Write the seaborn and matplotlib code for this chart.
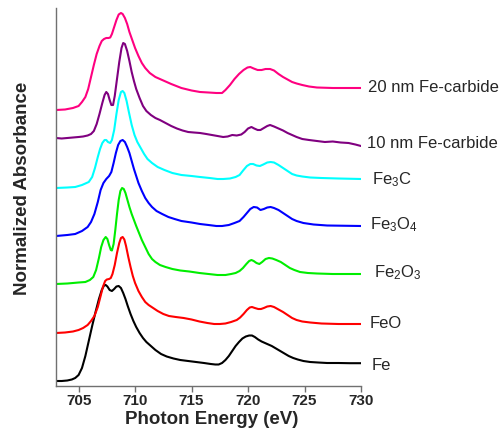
import matplotlib
matplotlib.use("Agg")
import matplotlib.pyplot as plt
import seaborn as sns
import pandas as pd

# Fe L-edge XAS spectra, stacked with vertical offsets (normalized absorbance + offset)
samples = ["Fe", "FeO", "Fe2O3", "Fe3O4", "Fe3C", "10 nm Fe-carbide", "20 nm Fe-carbide"]
sample_labels = ["Fe", "FeO", r"Fe$_2$O$_3$", r"Fe$_3$O$_4$", r"Fe$_3$C",
                 "10 nm Fe-carbide", "20 nm Fe-carbide"]
colors = ["#000000", "#ff0000", "#00ee00", "#0000ff", "#00ffff", "#800080", "#ff0080"]

fe_energy = [703.0, 703.5, 704.0, 704.4, 704.7, 705.0, 705.3, 705.6, 705.9, 706.2, 706.5,
             706.8, 707.05, 707.25, 707.4, 707.55, 707.75, 707.95, 708.15, 708.35, 708.55,
             708.75, 708.95, 709.15, 709.35, 709.6, 709.85, 710.1, 710.4, 710.7, 711.0,
             711.4, 711.8, 712.3, 712.8, 713.4, 714.0, 714.7, 715.4, 716.1, 716.7, 717.1,
             717.4, 717.7, 718.0, 718.3, 718.6, 718.9, 719.2, 719.5, 719.8, 720.1, 720.35,
             720.6, 720.9, 721.2, 721.5, 721.8, 722.1, 722.4, 722.7, 723.0, 723.3, 723.6,
             724.0, 724.4, 724.9, 725.5, 726.2, 727.0, 728.0, 729.0, 730.0]
fe_abs = [0.05, 0.05, 0.055, 0.065, 0.08, 0.11, 0.18, 0.30, 0.45, 0.60, 0.74,
          0.87, 0.96, 1.005, 1.01, 0.995, 0.96, 0.95, 0.97, 0.995, 1.00,
          0.98, 0.93, 0.87, 0.80, 0.72, 0.65, 0.59, 0.53, 0.48, 0.44,
          0.40, 0.36, 0.32, 0.295, 0.275, 0.26, 0.25, 0.24, 0.23, 0.22, 0.215,
          0.215, 0.23, 0.26, 0.30, 0.35, 0.40, 0.44, 0.475, 0.495, 0.505, 0.505,
          0.49, 0.465, 0.445, 0.43, 0.415, 0.40, 0.38, 0.36, 0.34, 0.32, 0.30,
          0.28, 0.265, 0.25, 0.24, 0.235, 0.23, 0.23, 0.228, 0.228]

feo_energy = [703.0, 703.8, 704.5, 705.0, 705.4, 705.8, 706.1, 706.4, 706.7, 706.95, 707.15,
              707.35, 707.5, 707.7, 707.85, 708.0, 708.2, 708.4, 708.6, 708.75, 708.9,
              709.05, 709.2, 709.4, 709.6, 709.8, 710.0, 710.3, 710.6, 710.9, 711.2,
              711.6, 712.0, 712.5, 713.0, 713.6, 714.3, 715.0, 715.7, 716.4, 717.0,
              717.5, 718.0, 718.5, 719.0, 719.3, 719.6, 719.9, 720.15, 720.35, 720.6,
              720.9, 721.15, 721.4, 721.7, 722.0, 722.3, 722.7, 723.1, 723.5, 723.9,
              724.3, 724.8, 725.5, 726.5, 728.0, 730.0]
feo_abs = [0.53, 0.535, 0.545, 0.56, 0.58, 0.61, 0.65, 0.70, 0.79, 0.90, 0.99,
           1.05, 1.065, 1.07, 1.08, 1.12, 1.21, 1.33, 1.43, 1.48, 1.49,
           1.465, 1.40, 1.29, 1.19, 1.10, 1.03, 0.95, 0.89, 0.84, 0.81,
           0.78, 0.75, 0.72, 0.70, 0.69, 0.68, 0.665, 0.645, 0.63, 0.62,
           0.62, 0.625, 0.64, 0.66, 0.685, 0.72, 0.76, 0.785, 0.79, 0.78,
           0.77, 0.77, 0.78, 0.795, 0.80, 0.79, 0.765, 0.74, 0.71, 0.68,
           0.66, 0.645, 0.635, 0.625, 0.62, 0.62]

fe2o3_energy = [703.0, 704.0, 705.0, 705.6, 706.0, 706.3, 706.55, 706.8, 707.0, 707.2, 707.4,
                707.55, 707.7, 707.85, 707.95, 708.1, 708.25, 708.4, 708.55, 708.7, 708.85,
                709.0, 709.15, 709.3, 709.5, 709.7, 709.9, 710.1, 710.35, 710.6, 710.9,
                711.2, 711.5, 711.8, 712.2, 712.7, 713.3, 714.0, 714.8, 715.7, 716.5,
                717.3, 718.0, 718.5, 718.9, 719.25, 719.55, 719.85, 720.1, 720.3, 720.5,
                720.75, 721.0, 721.25, 721.55, 721.85, 722.15, 722.5, 722.9, 723.3, 723.7,
                724.1, 724.6, 725.3, 726.1, 727.5, 730.0]
fe2o3_abs = [1.02, 1.025, 1.035, 1.04, 1.06, 1.09, 1.16, 1.28, 1.39, 1.46, 1.49,
             1.47, 1.41, 1.36, 1.355, 1.42, 1.56, 1.72, 1.86, 1.95, 1.98,
             1.97, 1.93, 1.87, 1.79, 1.72, 1.66, 1.60, 1.53, 1.46, 1.39,
             1.32, 1.27, 1.24, 1.21, 1.19, 1.17, 1.155, 1.145, 1.13, 1.12,
             1.11, 1.11, 1.12, 1.13, 1.15, 1.18, 1.22, 1.25, 1.26, 1.25,
             1.23, 1.22, 1.24, 1.27, 1.28, 1.275, 1.26, 1.24, 1.21, 1.18,
             1.16, 1.14, 1.13, 1.125, 1.12, 1.12]

fe3o4_energy = [703.0, 704.0, 704.7, 705.3, 705.8, 706.1, 706.4, 706.7, 706.95, 707.2, 707.45,
                707.7, 707.9, 708.1, 708.3, 708.5, 708.7, 708.9, 709.1, 709.3, 709.5,
                709.7, 709.9, 710.1, 710.3, 710.6, 710.9, 711.2, 711.5, 711.9, 712.4,
                712.95, 713.5, 714.1, 715.0, 715.75, 716.5, 717.2, 717.7, 718.3, 718.8,
                719.25, 719.6, 719.9, 720.2, 720.5, 720.8, 721.1, 721.4, 721.7, 722.0,
                722.3, 722.7, 723.1, 723.5, 723.9, 724.3, 724.9, 725.8, 727.0, 730.0]
fe3o4_abs = [1.50, 1.51, 1.52, 1.55, 1.59, 1.64, 1.72, 1.84, 1.96, 2.03, 2.07,
             2.10, 2.14, 2.23, 2.33, 2.41, 2.45, 2.46, 2.44, 2.39, 2.33,
             2.25, 2.17, 2.10, 2.03, 1.95, 1.88, 1.83, 1.79, 1.75, 1.72,
             1.69, 1.67, 1.65, 1.635, 1.62, 1.61, 1.60, 1.60, 1.61, 1.63,
             1.65, 1.69, 1.73, 1.77, 1.79, 1.785, 1.76, 1.77, 1.785, 1.79,
             1.78, 1.76, 1.73, 1.70, 1.67, 1.65, 1.63, 1.615, 1.605, 1.60]

fe3c_energy = [703.0, 704.0, 704.7, 705.3, 705.9, 706.2, 706.45, 706.7, 706.9, 707.1, 707.3,
               707.45, 707.6, 707.8, 707.95, 708.15, 708.35, 708.55, 708.75, 708.9, 709.05,
               709.25, 709.45, 709.7, 709.95, 710.2, 710.5, 710.8, 711.1, 711.5, 712.0,
               712.6, 713.3, 714.1, 715.0, 715.75, 716.6, 717.3, 717.8, 718.4, 718.9,
               719.25, 719.6, 719.9, 720.2, 720.45, 720.75, 721.05, 721.35, 721.7, 722.0,
               722.3, 722.7, 723.1, 723.5, 723.9, 724.3, 724.8, 725.5, 726.5, 728.0, 730.0]
fe3c_abs = [1.98, 1.985, 1.99, 2.01, 2.04, 2.09, 2.18, 2.29, 2.37, 2.43, 2.46,
            2.46, 2.44, 2.43, 2.46, 2.56, 2.72, 2.86, 2.94, 2.95, 2.93,
            2.85, 2.74, 2.61, 2.51, 2.44, 2.38, 2.32, 2.27, 2.23, 2.19,
            2.16, 2.13, 2.11, 2.10, 2.09, 2.08, 2.07, 2.07, 2.075, 2.09,
            2.11, 2.16, 2.20, 2.22, 2.22, 2.205, 2.20, 2.215, 2.235, 2.24,
            2.235, 2.21, 2.18, 2.15, 2.12, 2.105, 2.095, 2.085, 2.08, 2.075, 2.07]

c10_energy = [703.0, 703.5, 704.0, 704.5, 705.0, 705.4, 705.8, 706.1, 706.35, 706.6, 706.85,
              707.1, 707.3, 707.45, 707.6, 707.75, 707.9, 708.05, 708.2, 708.4, 708.6,
              708.8, 708.95, 709.1, 709.3, 709.5, 709.7, 709.9, 710.1, 710.4, 710.7,
              711.0, 711.4, 711.8, 712.2, 712.7, 713.2, 713.7, 714.2, 714.7, 715.2,
              715.75, 716.3, 716.8, 717.3, 717.8, 718.2, 718.6, 719.0, 719.4, 719.7,
              720.0, 720.3, 720.55, 720.85, 721.1, 721.4, 721.7, 721.95, 722.3, 722.7,
              723.1, 723.5, 723.9, 724.3, 724.8, 725.4, 726.1, 726.8, 727.5, 728.2,
              728.9, 729.5, 730.0]
c10_abs = [2.48, 2.475, 2.48, 2.485, 2.49, 2.495, 2.505, 2.52, 2.55, 2.62, 2.72,
           2.83, 2.91, 2.94, 2.92, 2.86, 2.81, 2.81, 2.90, 3.07, 3.24,
           3.38, 3.43, 3.42, 3.35, 3.25, 3.14, 3.05, 2.97, 2.88, 2.80,
           2.75, 2.71, 2.68, 2.66, 2.63, 2.60, 2.575, 2.555, 2.54, 2.535,
           2.53, 2.52, 2.51, 2.50, 2.49, 2.495, 2.51, 2.505, 2.515, 2.54,
           2.575, 2.59, 2.575, 2.56, 2.56, 2.58, 2.60, 2.61, 2.595, 2.575,
           2.555, 2.53, 2.51, 2.49, 2.47, 2.46, 2.45, 2.44, 2.445, 2.435,
           2.43, 2.415, 2.40]

c20_energy = [703.0, 703.8, 704.5, 705.0, 705.3, 705.6, 705.85, 706.1, 706.35, 706.6, 706.85,
              707.05, 707.25, 707.45, 707.65, 707.8, 707.95, 708.15, 708.35, 708.55, 708.75,
              708.9, 709.1, 709.3, 709.5, 709.75, 710.0, 710.3, 710.6, 710.9, 711.3,
              711.8, 712.4, 713.2, 714.1, 715.0, 715.75, 716.5, 717.2, 717.7, 718.0,
              718.4, 718.8, 719.2, 719.6, 719.95, 720.2, 720.5, 720.85, 721.2, 721.55,
              721.95, 722.3, 722.7, 723.1, 723.5, 723.9, 724.3, 724.8, 725.4, 726.1,
              727.5, 730.0]
c20_abs = [2.76, 2.765, 2.78, 2.80, 2.84, 2.89, 2.97, 3.09, 3.21, 3.32, 3.40,
           3.45, 3.47, 3.48, 3.48, 3.485, 3.52, 3.59, 3.66, 3.715, 3.73,
           3.72, 3.68, 3.62, 3.54, 3.46, 3.38, 3.30, 3.23, 3.18, 3.13,
           3.09, 3.06, 3.02, 2.98, 2.955, 2.94, 2.935, 2.93, 2.93, 2.96,
           3.01, 3.07, 3.12, 3.16, 3.185, 3.19, 3.175, 3.16, 3.16, 3.17,
           3.17, 3.155, 3.12, 3.09, 3.065, 3.04, 3.025, 3.01, 2.995, 2.985,
           2.98, 2.98]

energies = [fe_energy, feo_energy, fe2o3_energy, fe3o4_energy, fe3c_energy, c10_energy, c20_energy]
absorbances = [fe_abs, feo_abs, fe2o3_abs, fe3o4_abs, fe3c_abs, c10_abs, c20_abs]

x_ticks = [705, 710, 715, 720, 725, 730]

frames = []
for name, e, a in zip(samples, energies, absorbances):
    frames.append(pd.DataFrame({"energy": e, "absorbance": a, "sample": name}))
df = pd.concat(frames, ignore_index=True)

sns.set_style("ticks")
plt.rcParams["font.family"] = ["Liberation Sans", "DejaVu Sans"]
plt.rcParams["mathtext.fontset"] = "custom"
plt.rcParams["mathtext.rm"] = "Liberation Sans"
plt.rcParams["mathtext.it"] = "Liberation Sans"

fig = plt.figure(figsize=(5.01, 4.38), dpi=100)
ax = fig.add_axes([56 / 501, 52 / 438, 305 / 501, 378 / 438])

sns.lineplot(data=df, x="energy", y="absorbance", hue="sample", hue_order=samples,
             palette=dict(zip(samples, colors)), estimator=None, legend=False,
             linewidth=1.5, ax=ax)
for line in ax.get_lines():
    line.set_solid_joinstyle("round")

ax.set_xlim(703.0, 730.0)
ax.set_ylim(0.0, 3.78)
ax.set_xticks(x_ticks)
ax.set_xticklabels([str(t) for t in x_ticks], fontsize=11, fontweight="bold")
ax.set_yticks([])

for side in ["top", "right"]:
    ax.spines[side].set_visible(False)
for side in ["left", "bottom"]:
    ax.spines[side].set_color("#707070")
    ax.spines[side].set_linewidth(1.0)
ax.tick_params(axis="x", direction="out", length=4, width=1.0, color="#707070", pad=2)

ax.set_xlabel("Photon Energy (eV)", fontsize=13.5, fontweight="bold")
ax.set_ylabel("Normalized Absorbance", fontsize=13.5, fontweight="bold")
ax.xaxis.set_label_coords(0.51, -0.066)
ax.yaxis.set_label_coords(-0.082, 0.524)

# sample names to the right of each trace, level with its tail
label_dx = [11, 9, 13, 9, 11, 6, 7]
label_dy = [-2, 1, 1, 1, -1, 2, 0]
for lab, a, dx, dy in zip(sample_labels, absorbances, label_dx, label_dy):
    ax.annotate(lab, xy=(730.0, a[-1]), xytext=(dx, dy), textcoords="offset pixels",
                ha="left", va="center", fontsize=12, annotation_clip=False)

fig.savefig("out.png", dpi=100)
